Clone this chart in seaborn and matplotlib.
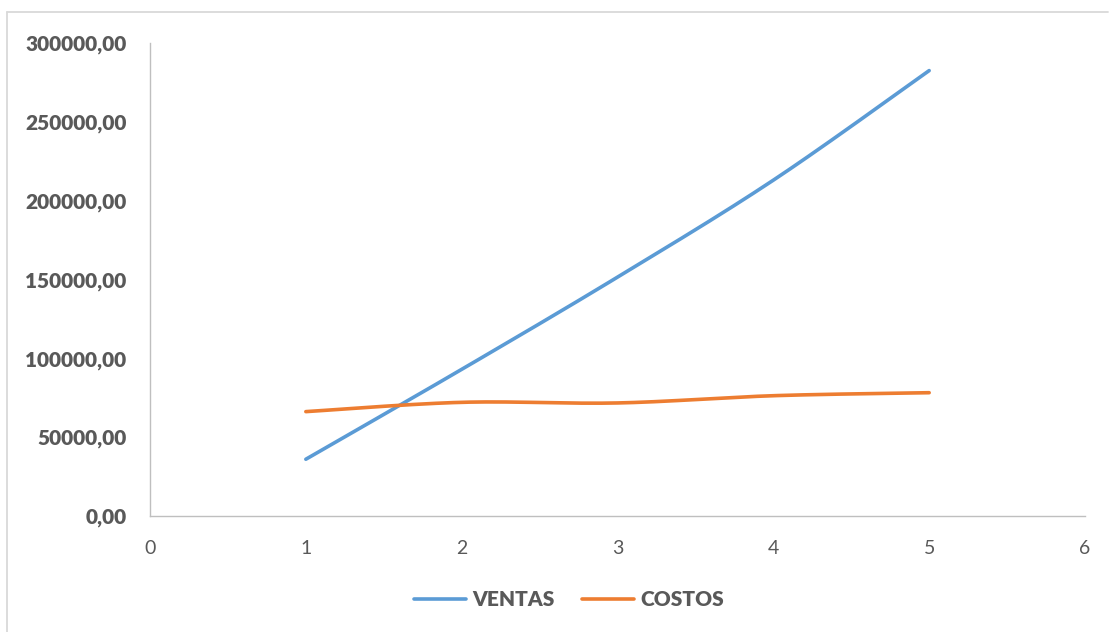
import numpy as np
import pandas as pd
import matplotlib
matplotlib.use("Agg")
import matplotlib.pyplot as plt
from matplotlib.lines import Line2D
import seaborn as sns

# Periods and series values
periodos = [1, 2, 3, 4, 5]
ventas = [36000, 93000, 151500, 213000, 282500]
costos = [66200, 72100, 71700, 76300, 78200]

series_names = ["VENTAS", "COSTOS"]
series_colors = ["#5B9BD5", "#ED7D31"]

x_ticks = [0, 1, 2, 3, 4, 5, 6]
y_ticks = [0, 50000, 100000, 150000, 200000, 250000, 300000]


def smooth(xs, ys, steps=40):
    """Catmull-Rom style Bezier smoothing through the given points."""
    xs = np.asarray(xs, float)
    ys = np.asarray(ys, float)
    px = np.concatenate([[xs[0]], xs, [xs[-1]]])
    py = np.concatenate([[ys[0]], ys, [ys[-1]]])
    out_x, out_y = [], []
    t = np.linspace(0, 1, steps)
    for i in range(1, len(px) - 2):
        p0 = np.array([px[i], py[i]])
        p3 = np.array([px[i + 1], py[i + 1]])
        c1 = p0 + (np.array([px[i + 1], py[i + 1]]) - np.array([px[i - 1], py[i - 1]])) / 6
        c2 = p3 - (np.array([px[i + 2], py[i + 2]]) - np.array([px[i], py[i]])) / 6
        b = ((1 - t) ** 3)[:, None] * p0 + (3 * (1 - t) ** 2 * t)[:, None] * c1 \
            + (3 * (1 - t) * t ** 2)[:, None] * c2 + (t ** 3)[:, None] * p3
        out_x.extend(b[:, 0])
        out_y.extend(b[:, 1])
    return np.array(out_x), np.array(out_y)


frames = []
for name, vals in zip(series_names, [ventas, costos]):
    sx, sy = smooth(periodos, vals)
    frames.append(pd.DataFrame({"x": sx, "y": sy, "serie": name}))
df = pd.concat(frames, ignore_index=True)

sns.set_theme(style="white")
plt.rcParams["font.family"] = ["Lato", "DejaVu Sans"]

W, H = 1109, 632
fig = plt.figure(figsize=(W / 100, H / 100), dpi=100)
ax = fig.add_axes([150 / W, 1 - 516 / H, (1085 - 150) / W, (516 - 43) / H])

sns.lineplot(data=df, x="x", y="y", hue="serie",
             palette=dict(zip(series_names, series_colors)), sort=False,
             estimator=None, linewidth=2.6, legend=False, ax=ax)
for line in ax.get_lines():
    line.set_solid_capstyle("round")

ax.set_xlim(0, 6)
ax.set_ylim(0, 300000)
ax.set_xticks(x_ticks)
ax.set_yticks(y_ticks)
ax.set_xticklabels([str(v) for v in x_ticks], fontsize=14, color="#595959")
ax.set_yticklabels([f"{v:.2f}".replace(".", ",") for v in y_ticks],
                   fontsize=15, fontweight="heavy", color="#595959")
ax.tick_params(axis="x", length=0, pad=17)
ax.tick_params(axis="y", length=0, pad=17)
ax.set_xlabel("")
ax.set_ylabel("")

for side in ["top", "right"]:
    ax.spines[side].set_visible(False)
for side in ["left", "bottom"]:
    ax.spines[side].set_color("#BFBFBF")
    ax.spines[side].set_linewidth(1.0)

# Chart frame
fig.add_artist(Line2D([7 / W, 7 / W], [0, 1 - 12 / H], color="#D9D9D9", lw=1.3))
fig.add_artist(Line2D([7 / W, 1108 / W], [1 - 12 / H, 1 - 12 / H], color="#D9D9D9", lw=1.3))

handles = [Line2D([0], [0], color=c, lw=2.6, solid_capstyle="round") for c in series_colors]
leg = fig.legend(handles, series_names, loc="center", bbox_to_anchor=(569 / W, 1 - 600 / H),
                 ncol=2, frameon=False, handlelength=2.5, columnspacing=1.3,
                 handletextpad=0.3, prop={"size": 15, "weight": "heavy"})
for t in leg.get_texts():
    t.set_color("#595959")

fig.savefig("out.png", dpi=100)
